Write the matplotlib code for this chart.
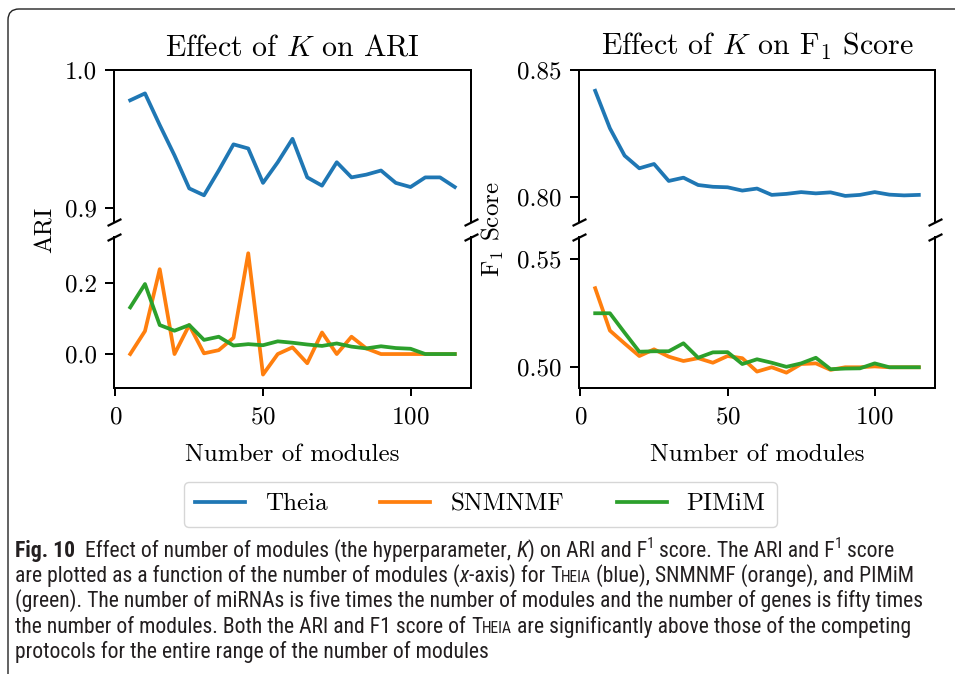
import matplotlib
matplotlib.use("Agg")
import matplotlib.pyplot as plt
from matplotlib.patches import FancyBboxPatch
from matplotlib.transforms import IdentityTransform
from matplotlib.font_manager import FontProperties, fontManager

# ---------------- data ----------------
modules = [5, 10, 15, 20, 25, 30, 35, 40, 45, 50, 55, 60,
           65, 70, 75, 80, 85, 90, 95, 100, 105, 110, 115]

ari_theia = [0.978, 0.983, 0.960, 0.938, 0.914, 0.909, 0.927, 0.946, 0.943, 0.918,
             0.933, 0.950, 0.922, 0.916, 0.933, 0.922, 0.924, 0.927, 0.918, 0.915,
             0.922, 0.922, 0.915]
ari_snmnmf = [0.000, 0.065, 0.240, 0.000, 0.082, 0.002, 0.011, 0.046, 0.285, -0.058,
              0.000, 0.019, -0.026, 0.061, 0.000, 0.049, 0.016, 0.000, 0.000, 0.000,
              0.000, 0.000, 0.000]
ari_pimim = [0.132, 0.198, 0.082, 0.066, 0.082, 0.040, 0.049, 0.024, 0.028, 0.025,
             0.036, 0.032, 0.027, 0.023, 0.030, 0.021, 0.016, 0.022, 0.017, 0.015,
             0.000, 0.000, 0.000]

f1_theia = [0.8418, 0.8270, 0.8162, 0.8112, 0.8129, 0.8062, 0.8075, 0.8046, 0.8039, 0.8037,
            0.8024, 0.8032, 0.8007, 0.8011, 0.8018, 0.8013, 0.8017, 0.8003, 0.8007, 0.8018,
            0.8008, 0.8005, 0.8007]
f1_snmnmf = [0.5366, 0.5170, 0.5110, 0.5052, 0.5083, 0.5049, 0.5029, 0.5042, 0.5021, 0.5052,
             0.5042, 0.4980, 0.5000, 0.4975, 0.5015, 0.5018, 0.4988, 0.5000, 0.5000, 0.5004,
             0.5000, 0.5000, 0.5000]
f1_pimim = [0.5250, 0.5250, 0.5160, 0.5072, 0.5074, 0.5074, 0.5111, 0.5044, 0.5069, 0.5070,
            0.5015, 0.5037, 0.5021, 0.5002, 0.5018, 0.5044, 0.4991, 0.4994, 0.4995, 0.5018,
            0.5000, 0.5000, 0.5000]

series_names = ["Theia", "SNMNMF", "PIMiM"]
series_colors = ["#1f77b4", "#ff7f0e", "#2ca02c"]

xticks = [0, 50, 100]
ari_top_ticks = [0.9, 1.0]
ari_bot_ticks = [0.0, 0.2]
f1_top_ticks = [0.80, 0.85]
f1_bot_ticks = [0.50, 0.55]

# ---------------- style ----------------
S = 1.8
plt.rcParams.update({
    "font.family": "serif",
    "font.serif": ["cmr10", "DejaVu Serif"],
    "mathtext.fontset": "cm",
    "axes.formatter.use_mathtext": True,
    "font.size": 10 * S,
    "axes.linewidth": 0.8 * S,
    "xtick.major.width": 0.8 * S,
    "ytick.major.width": 0.8 * S,
    "xtick.major.size": 3.2 * S,
    "ytick.major.size": 3.5 * S,
    "xtick.major.pad": 4.3 * S,
    "ytick.major.pad": 3.5 * S,
    "lines.linewidth": 1.5 * S,
})

W, H = 955, 674
fig = plt.figure(figsize=(W / 100, H / 100), dpi=100)


def frac(x0, y0, x1, y1):
    return [x0 / W, 1 - y1 / H, (x1 - x0) / W, (y1 - y0) / H]


axL_top = fig.add_axes(frac(114, 70, 471, 222))
axL_bot = fig.add_axes(frac(114, 237, 471, 388))
axR_top = fig.add_axes(frac(579, 70, 935, 222))
axR_bot = fig.add_axes(frac(579, 237, 935, 388))

left_series = [ari_theia, ari_snmnmf, ari_pimim]
right_series = [f1_theia, f1_snmnmf, f1_pimim]

handles = []
for ax_pair, data in (((axL_top, axL_bot), left_series), ((axR_top, axR_bot), right_series)):
    for ax in ax_pair:
        for vals, name, col in zip(data, series_names, series_colors):
            ln, = ax.plot(modules, vals, color=col, label=name)
            if ax is axL_top:
                handles.append(ln)

for ax in (axL_top, axL_bot, axR_top, axR_bot):
    ax.set_xlim(-0.5, 120.5)
    ax.set_xticks(xticks)

axL_top.set_ylim(0.8896, 1.0)
axL_bot.set_ylim(-0.096, 0.331)
axR_top.set_ylim(0.790, 0.850)
axR_bot.set_ylim(0.4904, 0.5603)

axL_top.set_yticks(ari_top_ticks)
axL_top.set_yticklabels(["%.1f" % v for v in ari_top_ticks])
axL_bot.set_yticks(ari_bot_ticks)
axL_bot.set_yticklabels(["%.1f" % v for v in ari_bot_ticks])
axR_top.set_yticks(f1_top_ticks)
axR_top.set_yticklabels(["%.2f" % v for v in f1_top_ticks])
axR_bot.set_yticks(f1_bot_ticks)
axR_bot.set_yticklabels(["%.2f" % v for v in f1_bot_ticks])

d = 0.5
brk = dict(marker=[(-1, -d), (1, d)], markersize=10, linestyle="none",
           color="k", mec="k", mew=1.6, clip_on=False)
for top, bot in ((axL_top, axL_bot), (axR_top, axR_bot)):
    top.spines["bottom"].set_visible(False)
    bot.spines["top"].set_visible(False)
    top.tick_params(axis="x", which="both", bottom=False, labelbottom=False)
    bot.tick_params(axis="x", which="both", top=False)
    top.plot([0, 1], [0, 0], transform=top.transAxes, **brk)
    bot.plot([0, 1], [1, 1], transform=bot.transAxes, **brk)
    bot.set_xlabel("Number of modules", labelpad=6 * S)

axL_top.set_title("Effect of $K$ on ARI", fontsize=12 * S, pad=6 * S)
axR_top.set_title("Effect of $K$ on F$_1$ Score", fontsize=12 * S, pad=6 * S)

fig.text(46 / W, 1 - 230 / H, "ARI", rotation=90, ha="center", va="center", fontsize=10 * S)
fig.text(493 / W, 1 - 229 / H, "F$_1$ Score", rotation=90, ha="center", va="center", fontsize=10 * S)

fig.legend(handles=handles, labels=series_names, loc="center", ncol=3,
           bbox_to_anchor=(480.5 / W, 1 - 504 / H), fontsize=10 * S,
           frameon=True, edgecolor="0.8", fancybox=True,
           borderpad=0.45, columnspacing=2.1)

# ---------------- outer frame ----------------
frame = FancyBboxPatch((8, -200), 1200, H - 9 + 200,
                       boxstyle="round,pad=0,rounding_size=11",
                       transform=IdentityTransform(), fill=False,
                       ec="#222222", lw=1.0)
fig.add_artist(frame)

# ---------------- caption ----------------
names = {f.name for f in fontManager.ttflist}
cap_family = None
for cand in ["Liberation Sans Narrow", "Roboto Condensed", "Roboto", "Lato",
             "Open Sans", "Noto Sans", "DejaVu Sans"]:
    if cand in names:
        cap_family = cand
        break

renderer = fig.canvas.get_renderer()


def adv(s, size, weight="normal", style="normal"):
    fp = FontProperties(family=cap_family, size=size, weight=weight, style=style)
    w1 = renderer.get_text_width_height_descent("|" + s + "|", fp, ismath=False)[0]
    w0 = renderer.get_text_width_height_descent("||", fp, ismath=False)[0]
    return w1 - w0


R, B, I, SUP, SC = "r", "b", "i", "sup", "sc"
cap_lines = [
    [(B, "Fig. 10"), (R, "  Effect of number of modules (the hyperparameter, "), (I, "K"),
     (R, ") on ARI and F"), (SUP, "1"), (R, " score. The ARI and F"), (SUP, "1"), (R, " score")],
    [(R, "are plotted as a function of the number of modules ("), (I, "x"),
     (R, "-axis) for "), (SC, "Theia"), (R, " (blue), SNMNMF (orange), and PIMiM")],
    [(R, "(green). The number of miRNAs is five times the number of modules and the number of genes is fifty times")],
    [(R, "the number of modules. Both the ARI and F1 score of "), (SC, "Theia"),
     (R, " are significantly above those of the competing")],
    [(R, "protocols for the entire range of the number of modules")],
]
cap_baselines = [557, 582, 607, 633, 658]
cap_x0 = 15
cap_size = 12.5


def pieces(kind, text, size):
    if kind == B:
        return [(text, size, "bold", "normal", 0)]
    if kind == I:
        return [(text, size, "normal", "italic", 0)]
    if kind == SUP:
        return [(text, size * 0.7, "normal", "normal", size * 0.55)]
    if kind == SC:
        return [(text[0], size, "normal", "normal", 0),
                (text[1:].upper(), size * 0.72, "normal", "normal", 0)]
    return [(text, size, "normal", "normal", 0)]


def line_width(runs, size):
    tot = 0
    for kind, text in runs:
        for t, sz, wt, st, dy in pieces(kind, text, size):
            tot += adv(t, sz, wt, st)
    return tot


# scale the caption font so that the widest line spans the same width as in the reference
target = 928 - cap_x0
cap_size = cap_size * target / line_width(cap_lines[2], cap_size)

for runs, base in zip(cap_lines, cap_baselines):
    x = cap_x0
    for kind, text in runs:
        for t, sz, wt, st, dy in pieces(kind, text, cap_size):
            fig.text(x, H - base + dy, t, transform=IdentityTransform(),
                     family=cap_family, fontsize=sz, fontweight=wt, fontstyle=st,
                     ha="left", va="baseline", color="#231f20")
            x += adv(t, sz, wt, st)

fig.savefig("out.png", dpi=100)
